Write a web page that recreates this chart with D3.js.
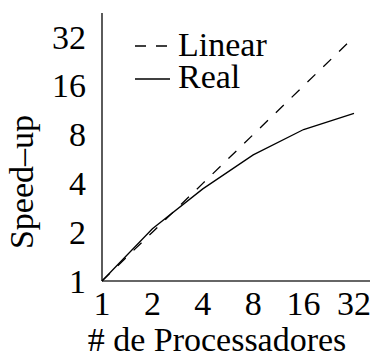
<!DOCTYPE html>
<html>
<head>
<meta charset="utf-8">
<script src="https://cdn.jsdelivr.net/npm/d3@7"></script>
<style>
   body { margin: 0; background: #fff; }
   svg text { font-family: 'Liberation Serif', 'Times New Roman', Times, serif; fill: #000; }
</style>
</head>
<body>
<div id="chart"></div>
<script>
// data
var processors = [1, 2, 4, 8, 16, 32];
var linearSpeedup = [1, 2, 4, 8, 16, 32];
var realSpeedup = [1, 2.1, 3.7, 6.0, 8.6, 10.8];
var tickValues = [1, 2, 4, 8, 16, 32];

var svgWidth = 374;
var svgHeight = 358;

var margin = { top: 37, right: 20, bottom: 77, left: 102 };
var width = 354 - margin.left;
var height = svgHeight - margin.top - margin.bottom;

var serif = "'Liberation Serif', 'Times New Roman', Times, serif";

var svg = d3.select("#chart")
   .append("svg")
   .attr("width", svgWidth)
   .attr("height", svgHeight)
   .attr("font-family", serif);

var chartGroup = svg.append("g")
   .attr("transform", `translate(${margin.left}, ${margin.top})`);

var xScale = d3.scaleLog().base(2).domain([1, 32]).range([0, width]);
var yScale = d3.scaleLog().base(2).domain([1, 32]).range([height, 0]);

var fontSize = 34;

// axis lines
chartGroup.append("line")
   .attr("x1", 0).attr("y1", height)
   .attr("x2", 370 - margin.left).attr("y2", height)
   .attr("stroke", "#333").attr("stroke-width", 1.6);
chartGroup.append("line")
   .attr("x1", 0).attr("y1", height)
   .attr("x2", 0).attr("y2", 13 - margin.top)
   .attr("stroke", "#333").attr("stroke-width", 1.6);

// tick labels
chartGroup.selectAll(".xtick")
   .data(tickValues)
   .enter()
   .append("text")
   .attr("class", "xtick")
   .attr("x", d => xScale(d))
   .attr("y", height + 34)
   .attr("text-anchor", "middle")
   .style("font-size", fontSize + "px")
   .text(d => d);

chartGroup.selectAll(".ytick")
   .data(tickValues)
   .enter()
   .append("text")
   .attr("class", "ytick")
   .attr("x", -16)
   .attr("y", d => yScale(d))
   .attr("dy", "0.34em")
   .attr("text-anchor", "end")
   .style("font-size", fontSize + "px")
   .text(d => d);

// lines
var line = d3.line()
   .x(d => xScale(d[0]))
   .y(d => yScale(d[1]));

chartGroup.append("path")
   .datum(d3.zip(processors, linearSpeedup))
   .attr("d", line)
   .attr("fill", "none")
   .attr("stroke", "#000")
   .attr("stroke-width", 1.3)
   .attr("stroke-dasharray", "11,11");

chartGroup.append("path")
   .datum(d3.zip(processors, realSpeedup))
   .attr("d", line)
   .attr("fill", "none")
   .attr("stroke", "#000")
   .attr("stroke-width", 1.3);

// legend
var legend = svg.append("g");
legend.append("line")
   .attr("x1", 135).attr("x2", 170).attr("y1", 46).attr("y2", 46)
   .attr("stroke", "#000").attr("stroke-width", 1.3)
   .attr("stroke-dasharray", "11,10");
legend.append("text")
   .attr("x", 178).attr("y", 56)
   .style("font-size", fontSize + "px")
   .text("Linear");
legend.append("line")
   .attr("x1", 135).attr("x2", 170).attr("y1", 79).attr("y2", 79)
   .attr("stroke", "#000").attr("stroke-width", 1.3);
legend.append("text")
   .attr("x", 178).attr("y", 88)
   .style("font-size", fontSize + "px")
   .text("Real");

// axis titles
svg.append("text")
   .attr("x", 217)
   .attr("y", 351)
   .attr("text-anchor", "middle")
   .style("font-size", fontSize + "px")
   .text("# de Processadores");

svg.append("text")
   .attr("transform", "translate(33, 182) rotate(-90)")
   .attr("text-anchor", "middle")
   .style("font-size", fontSize + "px")
   .text("Speed–up");
</script>
</body>
</html>
